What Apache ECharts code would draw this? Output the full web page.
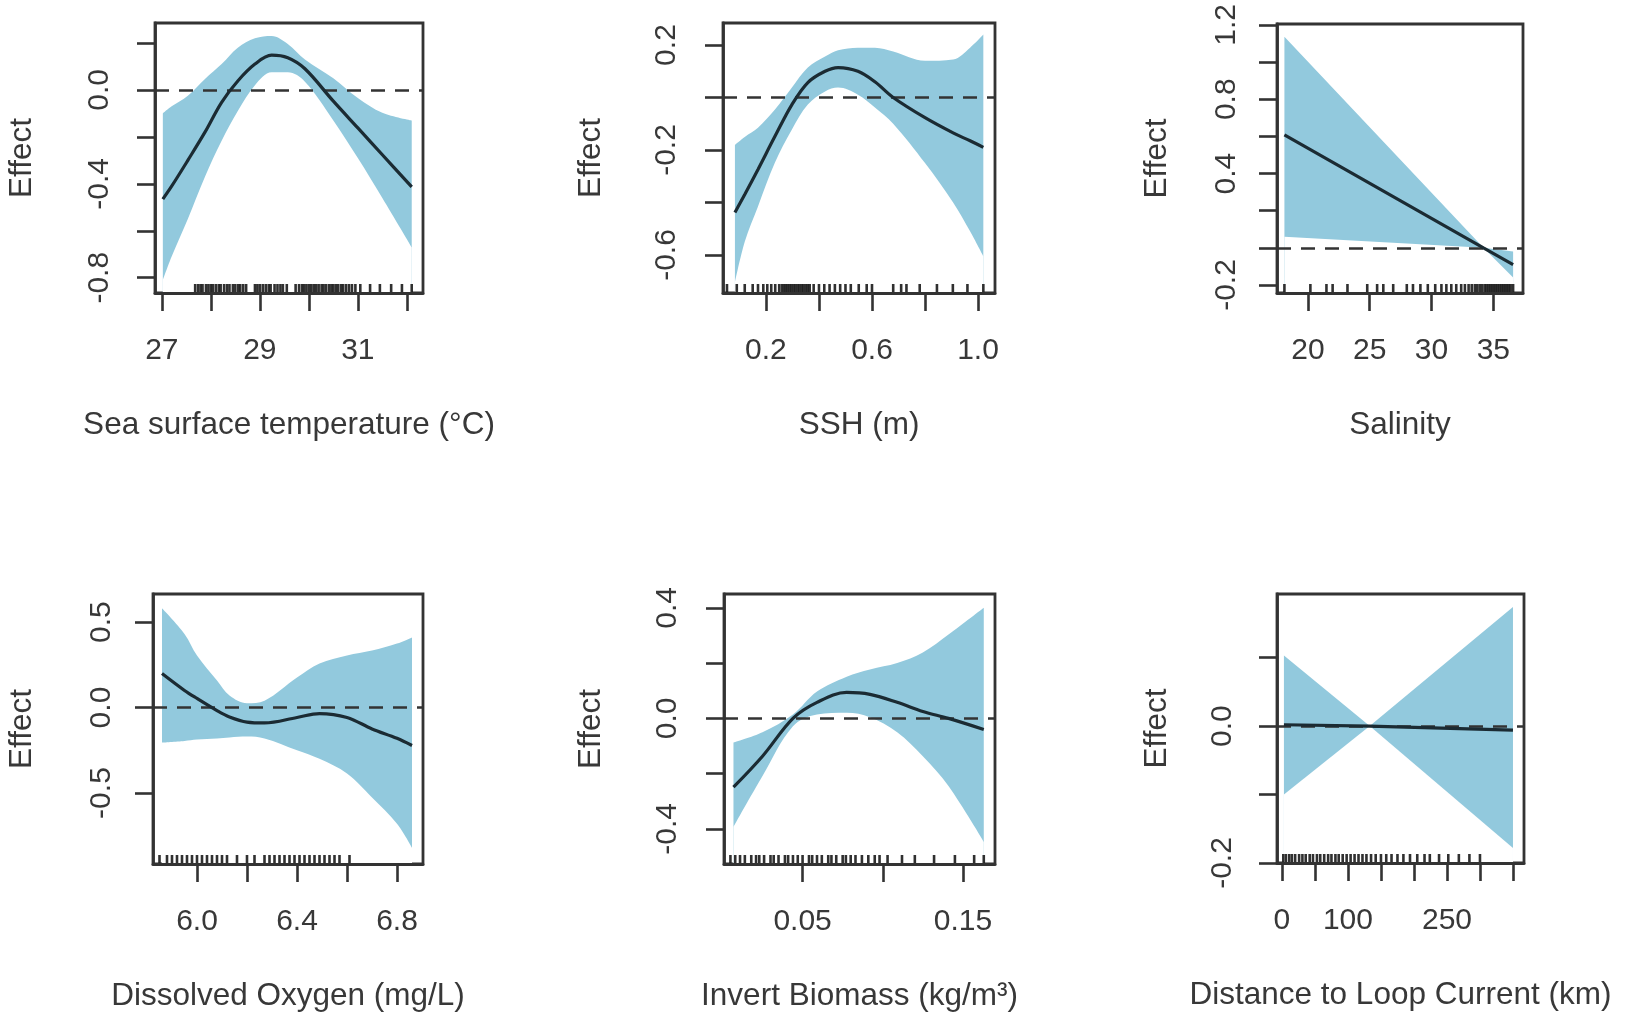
<!DOCTYPE html>
<html>
<head>
<meta charset="utf-8">
<title>GAM partial effects</title>
<script src="https://cdn.jsdelivr.net/npm/echarts@6/dist/echarts.min.js"></script>
<style>
  html, body { margin: 0; padding: 0; background: #fff; }
  #chart { width: 1650px; height: 1021px; }
</style>
</head>
<body>
<div id="chart"></div>
<script>
// ---- Sea surface temperature
var sstX     = [27.02, 27.2, 27.53, 27.88, 28.22, 28.55, 28.9, 29.24, 29.57, 29.92, 30.5, 31.0, 31.5, 32.1];
var sstFit   = [-0.465, -0.41, -0.30, -0.18, -0.053, 0.038, 0.11, 0.148, 0.137, 0.09, -0.048, -0.162, -0.276, -0.413];
var sstUpper = [-0.10, -0.07, -0.025, 0.047, 0.11, 0.18, 0.22, 0.23, 0.196, 0.13, 0.05, -0.034, -0.097, -0.13];
var sstLower = [-0.81, -0.71, -0.55, -0.37, -0.217, -0.09, 0.02, 0.075, 0.075, 0.035, -0.13, -0.29, -0.46, -0.67];
var sstRug   = [27.68, 27.74, 27.79, 27.83, 27.9, 27.95, 28.0, 28.04, 28.1, 28.16, 28.2, 28.27, 28.33,
                28.38, 28.45, 28.5, 28.56, 28.6, 28.66, 28.72, 28.9, 28.95, 29.0, 29.06, 29.12, 29.18,
                29.22, 29.3, 29.36, 29.42, 29.47, 29.55, 29.73, 29.8, 29.86, 29.9, 29.95, 30.0, 30.05,
                30.1, 30.15, 30.2, 30.26, 30.3, 30.35, 30.41, 30.46, 30.5, 30.55, 30.6, 30.66, 30.7,
                30.76, 30.82, 30.88, 30.95, 31.05, 31.25, 31.45, 31.68, 31.9, 32.1];
var sstXTicks = [27, 28, 29, 30, 31, 32];
var sstXLabels = [27, 29, 31];
var sstYTicks = [-0.8, -0.6, -0.4, -0.2, 0, 0.2];
var sstYLabels = [-0.8, -0.4, 0];

// ---- SSH
var sshX     = [0.083, 0.12, 0.17, 0.234, 0.298, 0.358, 0.423, 0.472, 0.547, 0.611, 0.68, 0.8, 0.906, 0.97, 1.02];
var sshFit   = [-0.438, -0.37, -0.274, -0.148, -0.027, 0.057, 0.1, 0.114, 0.1, 0.06, 0.0, -0.077, -0.135, -0.165, -0.19];
var sshUpper = [-0.18, -0.15, -0.115, -0.046, 0.038, 0.114, 0.156, 0.18, 0.19, 0.19, 0.175, 0.14, 0.145, 0.19, 0.24];
var sshLower = [-0.705, -0.55, -0.415, -0.248, -0.122, -0.027, 0.023, 0.038, 0.011, -0.038, -0.10, -0.25, -0.40, -0.51, -0.605];
var sshRug   = [0.053, 0.09, 0.12, 0.15, 0.17, 0.19, 0.205, 0.22, 0.235, 0.25, 0.26, 0.268, 0.275,
                0.282, 0.29, 0.297, 0.305, 0.312, 0.32, 0.327, 0.335, 0.342, 0.35, 0.358, 0.365, 0.38,
                0.4, 0.42, 0.44, 0.46, 0.48, 0.5, 0.52, 0.55, 0.58, 0.6, 0.68, 0.71, 0.73, 0.78, 0.845,
                0.905, 0.96, 1.02];
var sshXTicks = [0.2, 0.4, 0.6, 0.8, 1.0];
var sshXLabels = [0.2, 0.6, 1.0];
var sshYTicks = [-0.6, -0.4, -0.2, 0, 0.2];
var sshYLabels = [-0.6, -0.2, 0.2];

// ---- Salinity
var salX     = [18.1, 34.2, 36.6];
var salFit   = [0.608, 0.0, -0.09];
var salUpper = [1.136, 0.0, -0.02];
var salLower = [0.06, 0.0, -0.16];
var salRug   = [18.1, 20.2, 21.5, 22.0, 23.2, 24.8, 25.6, 26.1, 26.9, 28.0, 28.5, 29.1, 29.7, 30.3,
                30.8, 31.2, 31.6, 32.0, 32.4, 32.7, 33.0, 33.25, 33.5, 33.7, 33.9, 34.1, 34.3, 34.45,
                34.6, 34.75, 34.9, 35.05, 35.2, 35.35, 35.5, 35.65, 35.8, 35.95, 36.1, 36.25, 36.4, 36.6];
var salXTicks = [20, 25, 30, 35];
var salXLabels = [20, 25, 30, 35];
var salYTicks = [-0.2, 0, 0.2, 0.4, 0.6, 0.8, 1.0, 1.2];
var salYLabels = [-0.2, 0.4, 0.8, 1.2];

// ---- Dissolved oxygen
var doX     = [5.86, 5.95, 6.0, 6.08, 6.13, 6.2, 6.27, 6.4, 6.49, 6.6, 6.7, 6.8, 6.86];
var doFit   = [0.199, 0.10, 0.053, -0.018, -0.055, -0.085, -0.09, -0.058, -0.035, -0.058, -0.125, -0.18, -0.222];
var doUpper = [0.58, 0.43, 0.304, 0.158, 0.07, 0.025, 0.04, 0.175, 0.257, 0.304, 0.333, 0.374, 0.41];
var doLower = [-0.205, -0.195, -0.187, -0.181, -0.175, -0.17, -0.181, -0.25, -0.3, -0.386, -0.526, -0.68, -0.82];
var doRug   = [5.85, 5.88, 5.9, 5.92, 5.94, 5.96, 5.98, 6.0, 6.02, 6.04, 6.06, 6.08, 6.1, 6.12, 6.16,
               6.2, 6.23, 6.27, 6.29, 6.31, 6.33, 6.35, 6.37, 6.39, 6.41, 6.43, 6.45, 6.47, 6.49, 6.51,
               6.53, 6.55, 6.57, 6.61];
var doXTicks = [6.0, 6.2, 6.4, 6.6, 6.8];
var doXLabels = [6.0, 6.4, 6.8];
var doYTicks = [-0.5, 0, 0.5];
var doYLabels = [-0.5, 0, 0.5];

// ---- Invert biomass
var invX     = [0.0069, 0.025, 0.044, 0.059, 0.0775, 0.092, 0.109, 0.125, 0.141, 0.163];
var invFit   = [-0.249, -0.137, 0.0, 0.058, 0.094, 0.087, 0.058, 0.025, 0.0, -0.04];
var invUpper = [-0.087, -0.05, 0.014, 0.097, 0.151, 0.177, 0.2, 0.238, 0.303, 0.40];
var invLower = [-0.393, -0.209, -0.029, 0.014, 0.02, 0.004, -0.05, -0.137, -0.245, -0.447];
var invRug   = [0.005, 0.008, 0.011, 0.014, 0.018, 0.021, 0.023, 0.026, 0.03, 0.032, 0.035, 0.039,
                0.041, 0.044, 0.047, 0.05, 0.054, 0.056, 0.059, 0.062, 0.066, 0.068, 0.071, 0.075,
                0.077, 0.08, 0.083, 0.087, 0.091, 0.095, 0.098, 0.103, 0.112, 0.12, 0.132, 0.145,
                0.157, 0.163];
var invXTicks = [0.05, 0.10, 0.15];
var invXLabels = [0.05, 0.15];
var invYTicks = [-0.4, -0.2, 0, 0.2, 0.4];
var invYLabels = [-0.4, 0, 0.4];

// ---- Distance to loop current
var distX     = [3, 133, 350];
var distFit   = [0.002, 0.0, -0.006];
var distUpper = [0.103, 0.0, 0.174];
var distLower = [-0.100, 0.0, -0.178];
var distRug   = [2, 6, 11, 15, 20, 26, 31, 36, 42, 47, 53, 58, 64, 70, 75, 81, 86, 92, 98, 104, 110,
                 116, 122, 128, 135, 142, 150, 158, 166, 175, 184, 194, 205, 216, 224, 238, 252, 268,
                 284, 300];
var distXTicks = [0, 50, 100, 150, 200, 250, 300, 350];
var distXLabels = [0, 100, 250];
var distYTicks = [-0.2, -0.1, 0, 0.1];
var distYLabels = [-0.2, 0];

var BAND = '#92c9dd';
var INK = '#333333';
var TEXT = '#383838';
var FIT = '#1b2b33';
var FONT = '"Liberation Sans", Arial, Helvetica, sans-serif';

var panels = [
    {name: 'Sea surface temperature (\u00b0C)', x: sstX, fit: sstFit, up: sstUpper, lo: sstLower, rug: sstRug,
     xt: sstXTicks, xl: sstXLabels, yt: sstYTicks, yl: sstYLabels, xd: 0, yd: 1,
     xr: [26.86, 32.33], yr: [-0.865, 0.285], smooth: true,
     box: {left: 155, top: 23, width: 268, height: 270}, ym: 40, yg: 117},
    {name: 'SSH (m)', x: sshX, fit: sshFit, up: sshUpper, lo: sshLower, rug: sshRug,
     xt: sshXTicks, xl: sshXLabels, yt: sshYTicks, yl: sshYLabels, xd: 1, yd: 1,
     xr: [0.038, 1.064], yr: [-0.745, 0.284], smooth: true,
     box: {left: 723, top: 23, width: 272, height: 270}, ym: 41, yg: 116},
    {name: 'Salinity', x: salX, fit: salFit, up: salUpper, lo: salLower, rug: salRug,
     xt: salXTicks, xl: salXLabels, yt: salYTicks, yl: salYLabels, xd: 0, yd: 1,
     xr: [17.5, 37.4], yr: [-0.243, 1.205], smooth: false,
     box: {left: 1277, top: 24, width: 246, height: 269}, ym: 35, yg: 104},
    {name: 'Dissolved Oxygen (mg/L)', x: doX, fit: doFit, up: doUpper, lo: doLower, rug: doRug,
     xt: doXTicks, xl: doXLabels, yt: doYTicks, yl: doYLabels, xd: 1, yd: 1,
     xr: [5.824, 6.904], yr: [-0.915, 0.664], smooth: true,
     box: {left: 153, top: 594, width: 270, height: 270}, ym: 36, yg: 115},
    {name: 'Invert Biomass (kg/m\u00b3)', x: invX, fit: invFit, up: invUpper, lo: invLower, rug: invRug,
     xt: invXTicks, xl: invXLabels, yt: invYTicks, yl: invYLabels, xd: 2, yd: 1,
     xr: [0.001, 0.17], yr: [-0.527, 0.45], smooth: true,
     box: {left: 724, top: 594, width: 271, height: 270}, ym: 41, yg: 117},
    {name: 'Distance to Loop Current (km)', x: distX, fit: distFit, up: distUpper, lo: distLower, rug: distRug,
     xt: distXTicks, xl: distXLabels, yt: distYTicks, yl: distYLabels, xd: 0, yd: 1,
     xr: [-7.5, 366.7], yr: [-0.2, 0.193], smooth: false,
     box: {left: 1277, top: 594, width: 247, height: 269}, ym: 39, yg: 104}
];

function zip(xs, ys) {
    return xs.map(function (v, k) { return [v, ys[k]]; });
}
function fixed(d) {
    return function (v) { return Number(v).toFixed(d); };
}

var grids = [], xAxes = [], yAxes = [], series = [];

panels.forEach(function (p, i) {
    grids.push({
        left: p.box.left, top: p.box.top, width: p.box.width, height: p.box.height,
        show: true, borderColor: INK, borderWidth: 2.8, backgroundColor: 'transparent'
    });
    xAxes.push({
        type: 'value', gridIndex: i, min: p.xr[0], max: p.xr[1], z: 10,
        axisLine: {show: true, onZero: false, lineStyle: {color: INK, width: 2.8}},
        axisTick: {show: true, inside: false, length: 18, customValues: p.xt,
                   lineStyle: {color: INK, width: 2.6}},
        axisLabel: {customValues: p.xl, margin: 43, fontSize: 30, color: TEXT, fontFamily: FONT,
                    formatter: fixed(p.xd)},
        splitLine: {show: false},
        name: p.name, nameLocation: 'middle', nameGap: 116,
        nameTextStyle: {fontSize: 31.5, color: TEXT, fontFamily: FONT}
    });
    yAxes.push({
        type: 'value', gridIndex: i, min: p.yr[0], max: p.yr[1], z: 10,
        axisLine: {show: true, onZero: false, lineStyle: {color: INK, width: 2.8}},
        axisTick: {show: true, inside: false, length: 18, customValues: p.yt,
                   lineStyle: {color: INK, width: 2.6}},
        axisLabel: {customValues: p.yl, rotate: 90, margin: p.ym, fontSize: 30, color: TEXT, fontFamily: FONT,
                    formatter: fixed(p.yd)},
        splitLine: {show: false},
        name: 'Effect', nameLocation: 'middle', nameGap: p.yg,
        nameTextStyle: {fontSize: 31.5, color: TEXT, fontFamily: FONT}
    });

    // confidence band: blue fill under the upper edge, then white fill under the lower edge
    series.push({
        type: 'line', xAxisIndex: i, yAxisIndex: i, data: zip(p.x, p.up),
        symbol: 'none', smooth: p.smooth ? 0.35 : false, z: 2, silent: true,
        lineStyle: {width: 0, opacity: 0},
        areaStyle: {color: BAND, opacity: 1, origin: 'start'}
    });
    series.push({
        type: 'line', xAxisIndex: i, yAxisIndex: i, data: zip(p.x, p.lo),
        symbol: 'none', smooth: p.smooth ? 0.35 : false, z: 3, silent: true,
        lineStyle: {width: 0, opacity: 0},
        areaStyle: {color: '#ffffff', opacity: 1, origin: 'start'},
        markLine: {
            silent: true, z: 5, symbol: ['none', 'none'], label: {show: false},
            lineStyle: {type: [14, 10], color: INK, width: 2.6},
            data: [{yAxis: 0}]
        }
    });
    // fitted smooth
    series.push({
        type: 'line', xAxisIndex: i, yAxisIndex: i, data: zip(p.x, p.fit),
        symbol: 'none', smooth: p.smooth ? 0.35 : false, z: 6, silent: true,
        lineStyle: {color: FIT, width: 3.2}
    });
    // rug
    series.push({
        type: 'scatter', xAxisIndex: i, yAxisIndex: i, clip: false, z: 7, silent: true,
        data: p.rug.map(function (v) { return [v, p.yr[0]]; }),
        symbol: 'rect', symbolSize: [2.6, 9], symbolOffset: [0, -4.5],
        itemStyle: {color: '#1a1a1a', opacity: 0.9}
    });
});

var chart = echarts.init(document.getElementById('chart'));
chart.setOption({
    animation: false,
    backgroundColor: '#ffffff',
    grid: grids,
    xAxis: xAxes,
    yAxis: yAxes,
    series: series
});
</script>
</body>
</html>
